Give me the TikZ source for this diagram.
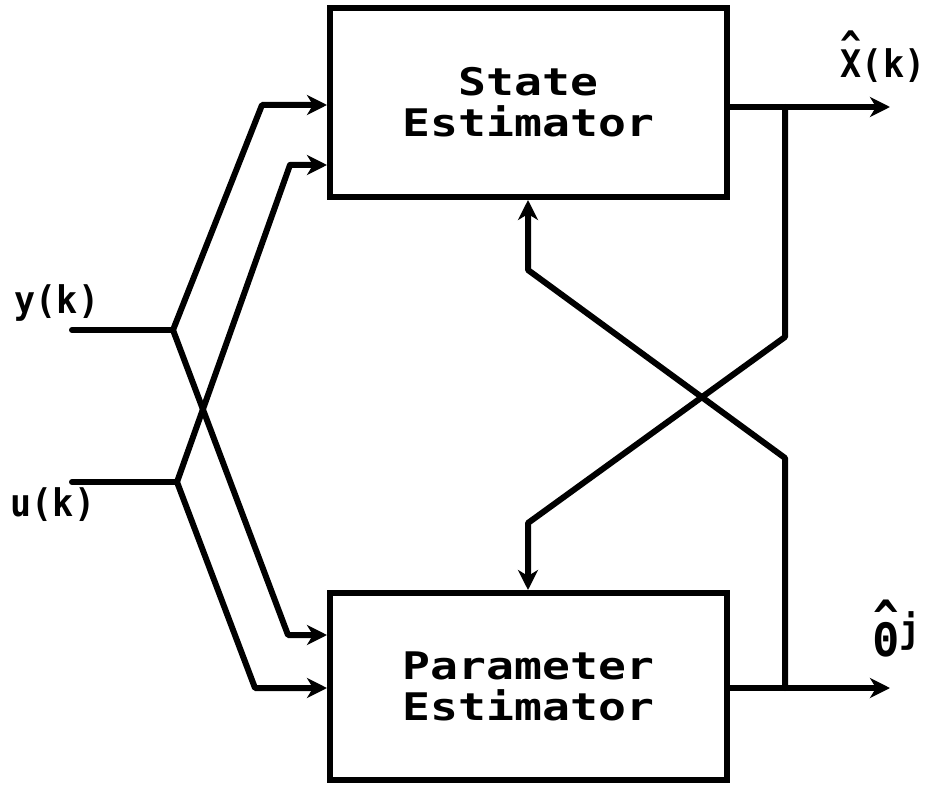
\documentclass[tikz,border=0pt]{standalone}
\usepackage{fontspec}
\usetikzlibrary{arrows.meta}
\newfontfamily\plotfont[FakeStretch=1.22]{DejaVu Sans Mono Bold}
\newfontfamily\lblfont[FakeStretch=0.92]{DejaVu Sans Mono Bold}
\newcommand\hatover[1]{\ooalign{#1\cr\hidewidth\raisebox{0.5em}{\textasciicircum}\hidewidth\cr}}
\begin{document}
\begin{tikzpicture}[x=1pt,y=-1pt,
  line/.style={line width=6pt, line cap=round, line join=round},
  arr/.style={line, -{Stealth[length=20pt,width=20pt,inset=6pt]}},
  blk/.style={draw, line width=6pt, rectangle, minimum width=397pt,
    minimum height=189pt, inner sep=0pt, align=center,
    font=\plotfont\fontsize{38}{41}\selectfont},
  lbl/.style={font=\lblfont\fontsize{38}{38}\selectfont, inner sep=0pt}]
\useasboundingbox (0,0) rectangle (934,786);

\node[blk] (se) at (528.5,102.5) {State\\Estimator};
\node[blk, minimum height=187pt] (pe) at (528.5,686.5) {Parameter\\Estimator};

% inputs
\coordinate (yin) at (72,330);  \coordinate (yj) at (173,330);
\coordinate (uin) at (72,482);  \coordinate (uj) at (177,482);
\coordinate (y1) at (262,105);  \coordinate (y2) at (288,635);
\coordinate (u1) at (290,165);  \coordinate (u2) at (255,688);

\draw[line] (yin) -- (yj);
\draw[line] (uin) -- (uj);
\draw[arr] (yj) -- (y1) -- (y1 -| se.west);
\draw[arr] (yj) -- (y2) -- (y2 -| pe.west);
\draw[arr] (uj) -- (u1) -- (u1 -| se.west);
\draw[arr] (uj) -- (u2) -- (u2 -| pe.west);

% outputs and feedback
\coordinate (xo) at (890,107);  \coordinate (xj) at (785,107);
\coordinate (xb1) at (785,337); \coordinate (xb2) at (528,523);
\coordinate (to) at (890,688);  \coordinate (tj) at (785,688);
\coordinate (tb1) at (785,458); \coordinate (tb2) at (528,270);

\draw[arr] (se.east |- xo) -- (xo);
\draw[arr] (pe.east |- to) -- (to);
\draw[arr] (xj) -- (xb1) -- (xb2) -- (xb2 |- pe.north);
\draw[arr] (tj) -- (tb1) -- (tb2) -- (tb2 |- se.south);

% labels
\node[lbl] (ly) at (57,303) {y(k)};
\node[lbl] (lu) at (53,505) {u(k)};
\node[lbl] (lx) at (883,66) {\hatover{X}(k)};
\node[lbl] (lt) at (897,634) {\fontsize{46}{46}\selectfont\hatover{Θ}\raisebox{14pt}{\fontsize{38}{38}\selectfont j}};
\end{tikzpicture}
\end{document}
